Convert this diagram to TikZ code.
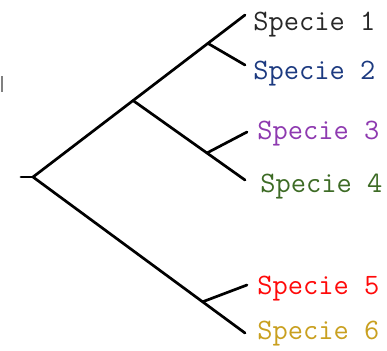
\documentclass[tikz,border=0pt]{standalone}
\usepackage{tikz}
\usetikzlibrary{calc}
\definecolor{sp1}{RGB}{40,40,40}
\definecolor{sp2}{RGB}{28,58,128}
\definecolor{sp3}{RGB}{142,58,176}
\definecolor{sp4}{RGB}{61,107,37}
\definecolor{sp5}{RGB}{255,10,10}
\definecolor{sp6}{RGB}{201,160,32}
\tikzstyle{branch} = [draw, line width=1.35pt, line cap=round]
\tikzstyle{leaf} = [anchor=west, inner sep=0pt, font=\ttfamily\fontsize{14.8}{17}\selectfont]

\begin{document}
\begin{tikzpicture}[x=0.5pt,y=-0.5pt]
\useasboundingbox (0,0) rectangle (387,350);

% Root and branch tips
\coordinate (stub) at (21,177);
\coordinate (root) at (33,177);
\foreach \name/\x/\y in {t1/245/15, t2/245/65, t3/247/132,
                         t4/245/180, t5/247/285, t6/245/333}
    \coordinate (\name) at (\x,\y);

% Inner splits, sitting on their parent branch
\coordinate (n1234) at ($(root)!0.472!(t1)$);
\coordinate (n12) at ($(root)!0.825!(t1)$);
\coordinate (n34) at ($(n1234)!0.66!(t4)$);
\coordinate (n56) at ($(root)!0.80!(t6)$);

% Draw branches
\draw[branch] (stub) -- (root);
\draw[branch] (root) -- (t1);
\draw[branch] (root) -- (t6);
\draw[branch] (n12) -- (t2);
\draw[branch] (n1234) -- (t4);
\draw[branch] (n34) -- (t3);
\draw[branch] (n56) -- (t5);

% Put in species names
\foreach \i/\x/\y in {1/253/25, 2/253/74, 3/257/134,
                      4/260/187, 5/257/289, 6/257/334}
    \node[leaf, text=sp\i] (s\i) at (\x,\y) {Specie \i};

% Small tick on the left
\coordinate (tka) at (2,76);
\coordinate (tkb) at (2,92);
\draw[gray, line width=0.9pt] (tka) -- (tkb);

\end{tikzpicture}
\end{document}
